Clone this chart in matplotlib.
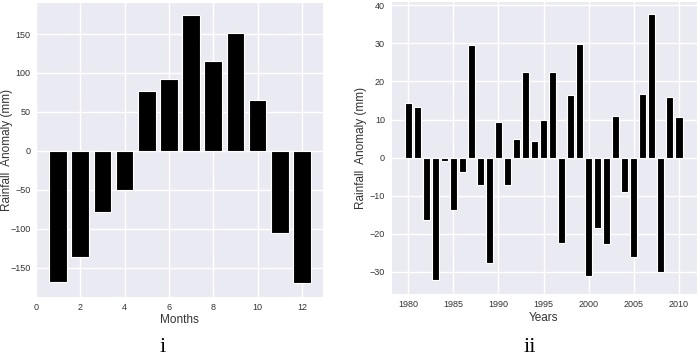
import matplotlib
matplotlib.use("Agg")
import matplotlib.pyplot as plt
import seaborn as sns

sns.set_style("darkgrid")
plt.rcParams["font.family"] = ["Liberation Sans", "DejaVu Sans"]

months = list(range(1, 13))
month_anomaly = [-169, -136, -79, -50, 77, 92, 174, 116, 151, 65, -106, -170]

years = list(range(1980, 2011))
year_anomaly = [14.4, 13.4, -16.4, -32.2, -0.8, -13.7, -3.8, 29.5, -7.2, -27.8,
                9.3, -7.2, 4.8, 22.5, 4.3, 10.0, 22.5, -22.5, 16.5, 29.8,
                -31.1, -18.4, -22.7, 10.9, -9.1, -26.2, 16.6, 37.6, -30.1, 16.0,
                10.7]

month_ticks = [0, 2, 4, 6, 8, 10, 12]
month_yticks = [-150, -100, -50, 0, 50, 100, 150]
year_ticks = [1980, 1985, 1990, 1995, 2000, 2005, 2010]
year_yticks = [-30, -20, -10, 0, 10, 20, 30, 40]

fig = plt.figure(figsize=(7, 3.62), dpi=100)
fig.patch.set_facecolor("white")

ax1 = fig.add_axes([0.0514, 0.1796, 0.41, 0.815])
ax2 = fig.add_axes([0.558, 0.187, 0.437, 0.81])

txt = "#333333"

ax1.bar(months, month_anomaly, width=0.8, color="black", edgecolor="white", linewidth=0.8)
ax1.set_xticks(month_ticks)
ax1.set_yticks(month_yticks)
ax1.set_xlim(0, 12.95)
ax1.set_ylim(-187.7, 191.2)
ax1.set_xlabel("Months", fontsize=8.5, color=txt, labelpad=2)
ax1.set_ylabel("Rainfall  Anomaly (mm)", fontsize=8.5, color=txt)
ax1.yaxis.set_label_coords(-0.08, 0.5)

ax2.bar(years, year_anomaly, width=0.8, color="black", edgecolor="white", linewidth=0.8)
ax2.set_xticks(year_ticks)
ax2.set_yticks(year_yticks)
ax2.set_xlim(1978.05, 2011.95)
ax2.set_ylim(-35.9, 41.1)
ax2.set_xlabel("Years", fontsize=8.5, color=txt, labelpad=2)
ax2.set_ylabel("Rainfall  Anomaly (mm)", fontsize=8.5, color=txt)
ax2.yaxis.set_label_coords(-0.077, 0.5)

for ax in (ax1, ax2):
    ax.tick_params(axis="both", labelsize=6.5, colors=txt, length=0, pad=4)
    ax.grid(True, color="white", linewidth=1)
    ax.set_axisbelow(True)

fig.text(0.233, 0.04, "i", fontsize=16, family="Liberation Serif", color="black", ha="center", va="center")
fig.text(0.757, 0.04, "ii", fontsize=16, family="Liberation Serif", color="black", ha="center", va="center")

fig.savefig("out.png", dpi=100)
